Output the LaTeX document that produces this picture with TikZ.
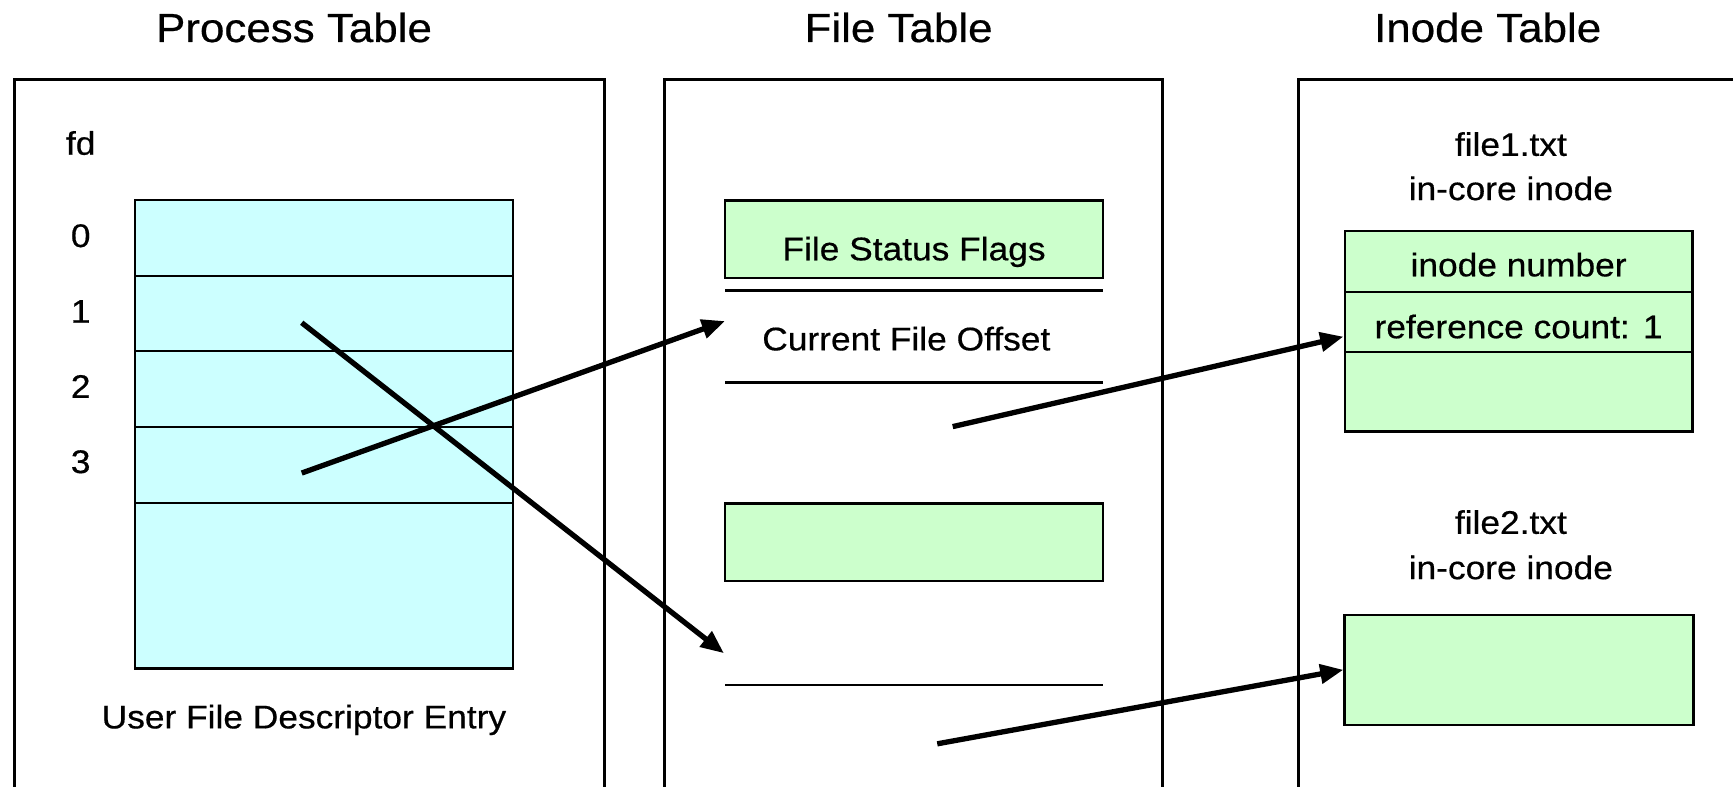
\documentclass[tikz,border=0pt]{standalone}
\usepackage{fontspec}
\setmainfont{Liberation Sans}[FakeStretch=1.08,FakeBold=0.5]
\usetikzlibrary{arrows.meta}
\definecolor{ufdcyan}{HTML}{CCFFFF}
\definecolor{entrygreen}{HTML}{CCFFCC}
\begin{document}
\begin{tikzpicture}[x=0.5pt,y=-0.5pt,
  tableframe/.style={line width=1.2pt},
  cellbox/.style={draw, line width=1.2pt, inner sep=0pt, anchor=center},
  rowline/.style={line width=1pt},
  title/.style={font=\fontsize{18.4}{20}\selectfont, inner sep=0pt, anchor=base},
  label/.style={font=\fontsize{14.8}{17}\selectfont, inner sep=0pt, anchor=base},
  pointer/.style={line width=2.4pt, -{Triangle[length=10.5pt,width=8.5pt]}}
]
\clip (0,0) rectangle (1568,712);
\fill[white] (0,0) rectangle (1568,712);

% ---- table headings
\node[title] (tproc)  at (266,38)  {Process Table};
\node[title] (tfile)  at (813,38)  {File Table};
\node[title] (tinode) at (1346,38) {Inode Table};

% ---- table frames (open at the bottom / right)
\draw[tableframe] (13,712) -- (13,72) -- (547,72) -- (547,712);
\draw[tableframe] (601,712) -- (601,72) -- (1052,72) -- (1052,712);
\draw[tableframe] (1175,712) -- (1175,72) -- (1568,72);

% ---- user file descriptor table
\node[label] (fd)   at (73,140)   {fd};
\node[label] (fd0)  at (73,223.5) {0};
\node[label] (fd1)  at (73,292)   {1};
\node[label] (fd2)  at (73,360)   {2};
\node[label] (fd3)  at (73,428)   {3};
\node[cellbox, fill=ufdcyan, minimum width=171pt, minimum height=211.85pt]
  (ufd) at (293,392.85) {};
\foreach \y in {249.45,317.9,386.35,454.8}
  \draw[rowline] (122,\y) -- (464,\y);
\node[label] (ufdlabel) at (275,659) {User File Descriptor Entry};

% ---- file table entries
\node[cellbox, fill=entrygreen, minimum width=171pt, minimum height=35pt]
  (flags) at (827,216.5) {};
\node[label] (flagslabel) at (827,235.5) {File Status Flags};
\draw[line width=1.5pt] (656,263) -- (998,263);
\node[label] (offsetlabel) at (820,317) {Current File Offset};
\draw[rowline] (656,346) -- (998,346);
\node[cellbox, fill=entrygreen, minimum width=171pt, minimum height=35pt]
  (flags2) at (827,490.8) {};
\draw[rowline] (656,620) -- (998,620);

% ---- inode table entries
\node[label] (f1name) at (1367,141) {file1.txt};
\node[label] (f1core) at (1367,181) {in-core inode};
\node[cellbox, fill=entrygreen, minimum width=157.25pt, minimum height=90.8pt]
  (ino1) at (1374.25,299.8) {};
\draw[rowline] (1217,264.5) -- (1531.5,264.5);
\draw[rowline] (1217,318.2) -- (1531.5,318.2);
\node[label] (inonum) at (1374,250) {inode number};
\node[label] (refcnt) at (1374,306) {reference count: 1};

\node[label] (f2name) at (1367,483) {file2.txt};
\node[label] (f2core) at (1367,524) {in-core inode};
\node[cellbox, fill=entrygreen, minimum width=157.75pt, minimum height=49.75pt]
  (ino2) at (1374.25,606.25) {};

% ---- pointer end points
\coordinate (ufd1) at (273,292);
\coordinate (ufd3) at (273,428);
\coordinate (entry1) at (656,290.5);
\coordinate (entry2) at (655,591);
\coordinate (entry1out) at (862,386);
\coordinate (entry2out) at (848,673);
\coordinate (ino1in) at (1215.5,304.6);
\coordinate (ino2in) at (1215.5,606);

% ---- pointers
\draw[pointer] (ufd1) -- (entry2);
\draw[pointer] (ufd3) -- (entry1);
\draw[pointer] (entry1out) -- (ino1in);
\draw[pointer] (entry2out) -- (ino2in);
\end{tikzpicture}
\end{document}
